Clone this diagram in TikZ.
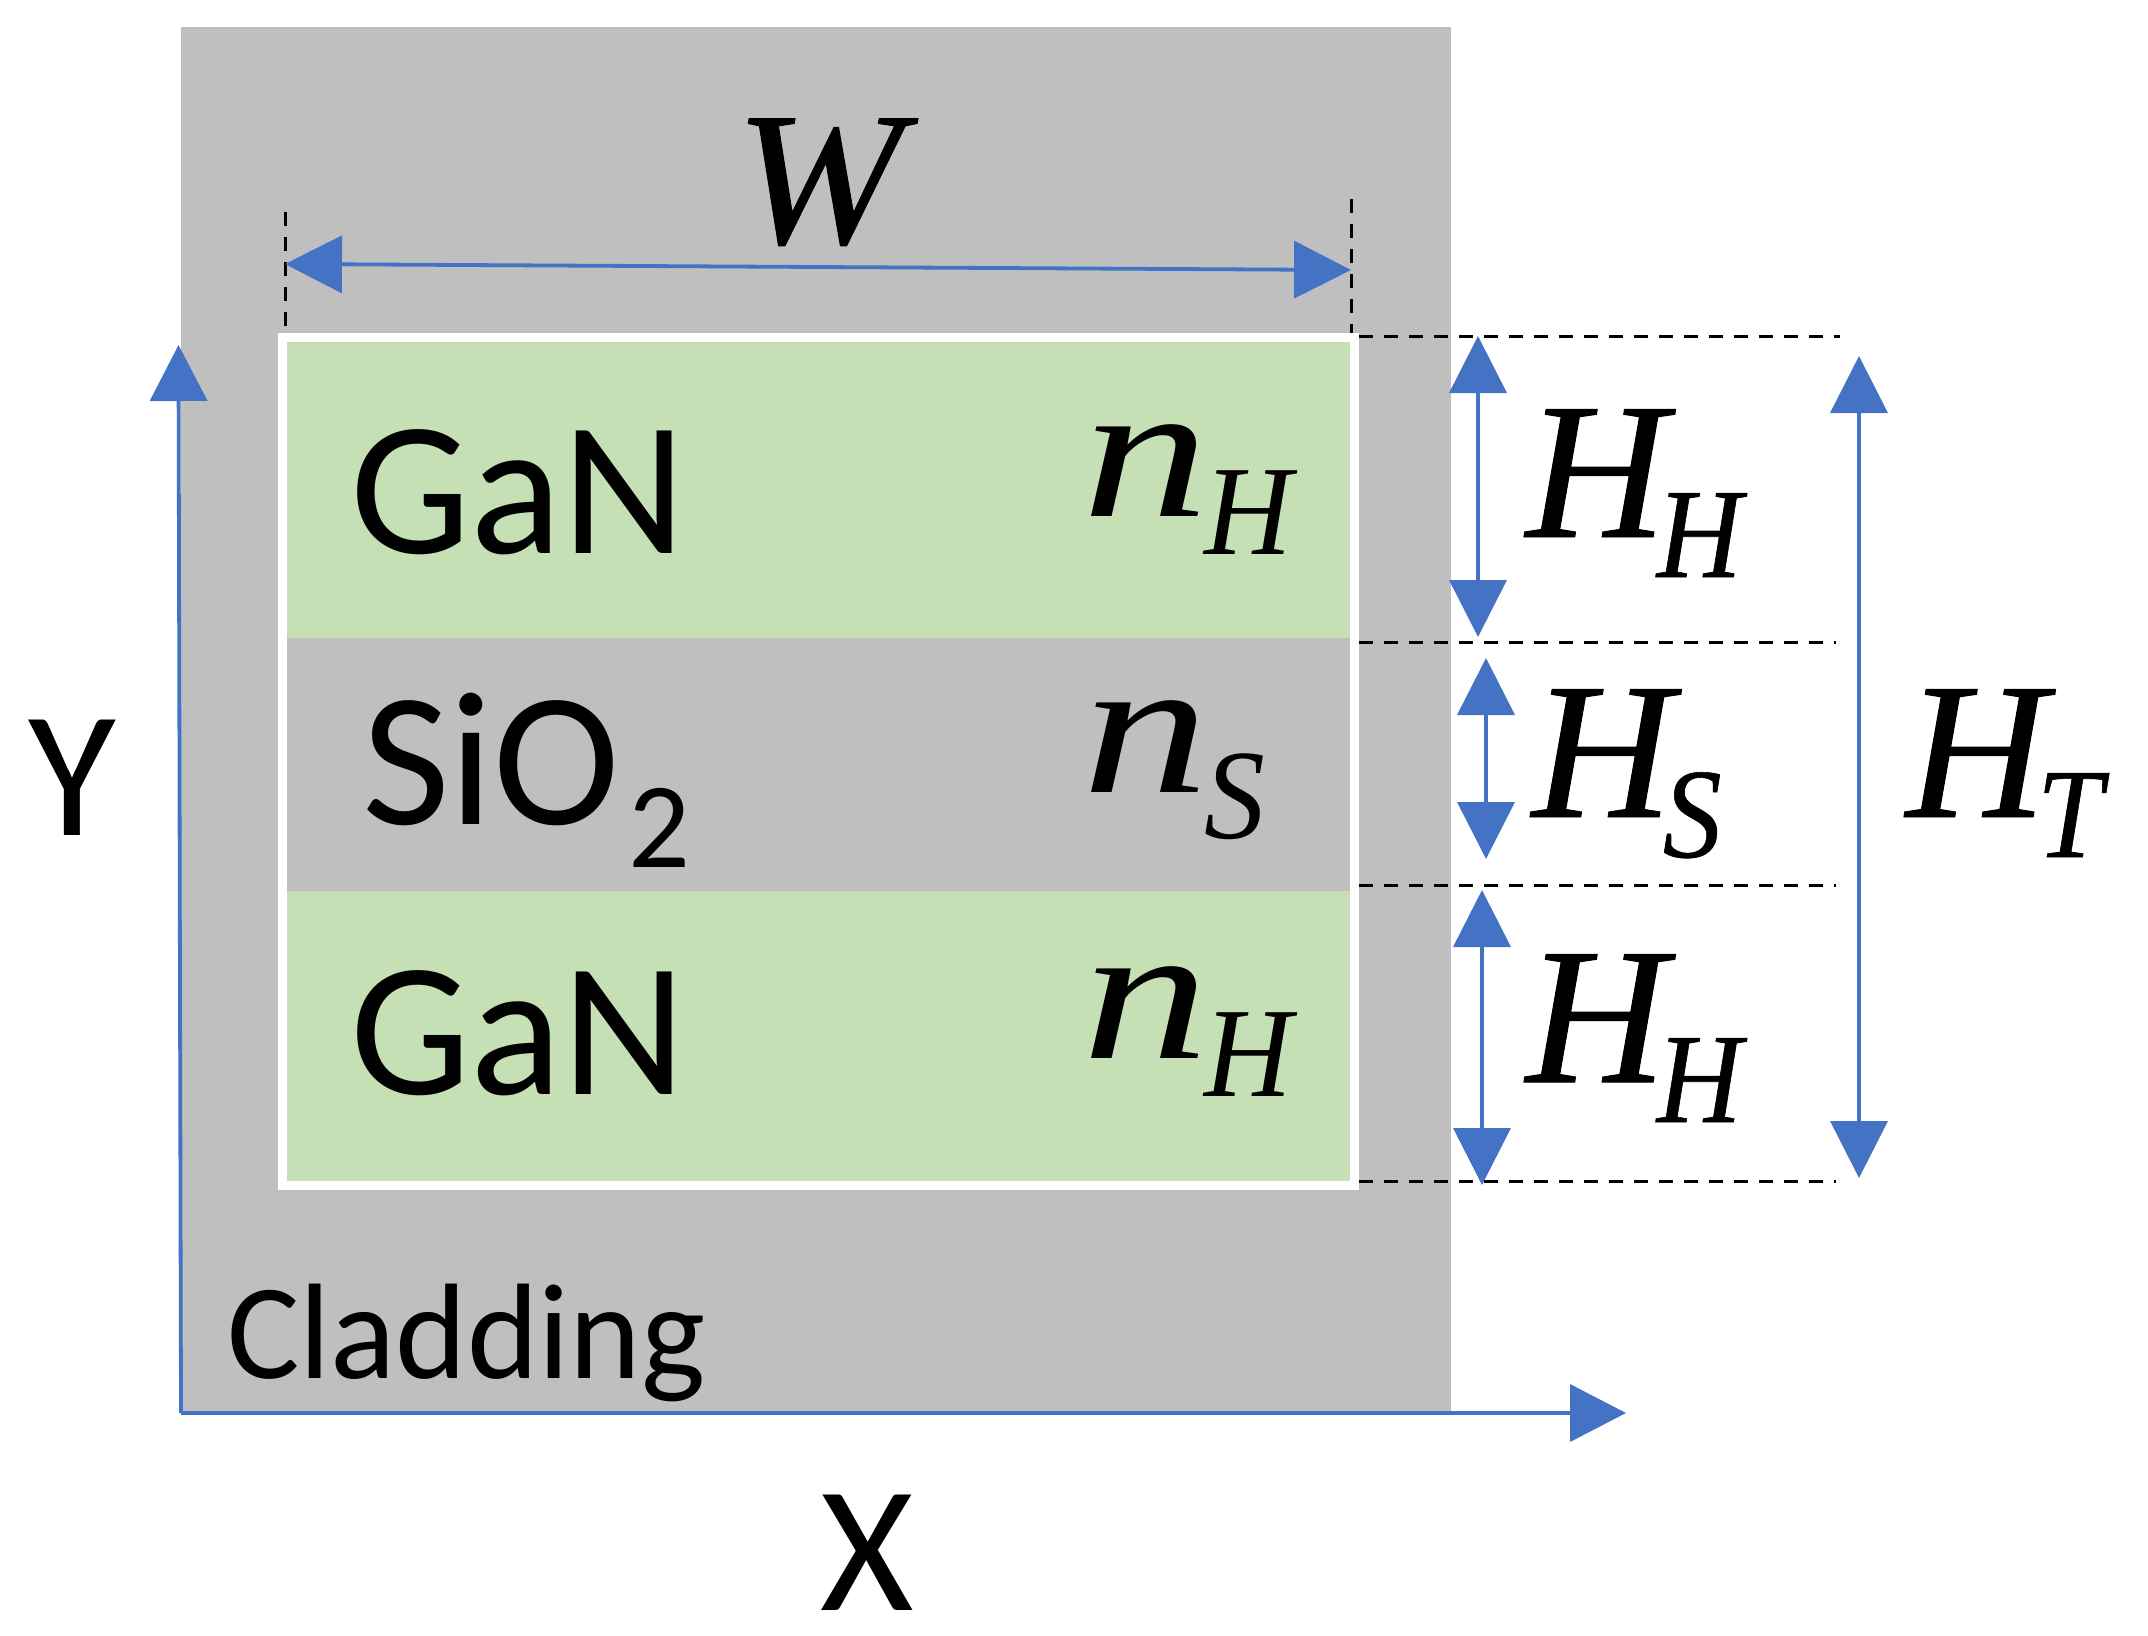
\documentclass[tikz,border=0pt]{standalone}
\usepackage{fontspec}
\setmainfont{Carlito}
\newfontfamily\mathlike{Liberation Serif}
\usetikzlibrary{arrows.meta}
\definecolor{clad}{HTML}{BFBFBF}
\definecolor{core}{HTML}{C5E0B4}
\definecolor{axis}{HTML}{4472C4}
\newcommand{\fsz}[1]{\fontsize{#1}{#1}\selectfont}
\newcommand{\mfont}{\mathlike\itshape\addfontfeature{FakeBold=0.5}}
\newcommand{\nfont}{\mathlike\itshape}
\newcommand{\symsub}[3][-40pt]{{\mfont\fsz{195}#2\kern-10pt\raisebox{#1}{\scalebox{.92}[1]{\fsz{128}#3}}}}
\newcommand{\refr}[3][-38pt]{{\nfont\fsz{195}\scalebox{1.3}[1]{#2}\kern-4pt\raisebox{#1}{\scalebox{.95}[1]{\fsz{128}#3}}}}
\tikzset{
  txt/.style={inner sep=0pt,outer sep=0pt,anchor=base west,text=black},
  label186/.style={txt,font=\fsz{191}},
  block/.style={inner sep=0pt,outer sep=0pt,draw=none,anchor=north west},
  guide/.style={black,line width=3pt,dash pattern=on 14pt off 11pt},
  dim/.style={axis,line width=3.8pt,{Triangle[length=57pt,width=57pt]}-{Triangle[length=57pt,width=57pt]}},
  ax/.style={axis,line width=3.8pt,-{Triangle[length=56pt,width=57pt]}}
}
\begin{document}
\begin{tikzpicture}[x=1pt,y=-1pt]
\useasboundingbox (0,0) rectangle (2148,1636);
% blocks
\node[block,fill=clad,minimum width=1270pt,minimum height=1387pt] (cladding) at (181,27) {};
\node[block,fill=white,minimum width=1081pt,minimum height=857pt] (frame) at (278,333) {};
\node[block,fill=core,minimum width=1063pt,minimum height=296pt] (top) at (287,342) {};
\node[block,fill=clad,minimum width=1063pt,minimum height=253pt] (mid) at (287,638) {};
\node[block,fill=core,minimum width=1063pt,minimum height=290pt] (bot) at (287,891) {};
% coordinates
\coordinate (wl) at (285,264);
\coordinate (wr) at (1351,270);
\coordinate (gl1) at (285,212);
\coordinate (gl2) at (285,333);
\coordinate (gr1) at (1351,199);
\coordinate (gr2) at (1351,333);
\coordinate (d1a) at (1359,336);
\coordinate (d1b) at (1840,336);
\coordinate (d2a) at (1359,642);
\coordinate (d2b) at (1836,642);
\coordinate (d3a) at (1359,885);
\coordinate (d3b) at (1836,885);
\coordinate (d4a) at (1359,1181);
\coordinate (d4b) at (1836,1181);
\coordinate (o) at (181,1413);
\coordinate (ytip) at (178.5,345);
\coordinate (xtip) at (1626,1413);
\coordinate (h1a) at (1478,336);
\coordinate (h1b) at (1478,637);
\coordinate (h2a) at (1486,658);
\coordinate (h2b) at (1486,859);
\coordinate (h3a) at (1482,890);
\coordinate (h3b) at (1482,1185);
\coordinate (h4a) at (1859,356);
\coordinate (h4b) at (1859,1178);
% guides
\draw[guide] (gl1) -- (gl2);
\draw[guide] (gr1) -- (gr2);
\draw[guide] (d1a) -- (d1b);
\draw[guide] (d2a) -- (d2b);
\draw[guide] (d3a) -- (d3b);
\draw[guide] (d4a) -- (d4b);
% arrows
\draw[dim] (wl) -- (wr);
\draw[ax] (o) -- (ytip);
\draw[ax] (o) -- (xtip);
\draw[dim] (h1a) -- (h1b);
\draw[dim] (h2a) -- (h2b);
\draw[dim] (h3a) -- (h3b);
\draw[dim] (h4a) -- (h4b);
% labels
\node[label186] (gan1) at (350,553) {GaN};
\node[label186] (sio) at (362,824) {SiO\kern8pt\raisebox{-43pt}{\fsz{122}2}};
\node[label186] (gan2) at (350,1094) {GaN};
\node[txt,font=\fsz{136}] (cl) at (227,1378) {Cladding};
\node[label186,font=\fsz{180}] (xl) at (867,1610) [anchor=base] {X};
\node[label186,font=\fsz{180}] (yl) at (72,835) [anchor=base] {Y};
\node[txt] (w) at (735,243) {{\mfont\fsz{190}\scalebox{1.06}[1]{W}}};
\node[txt] (n1) at (1082,516) {\refr{n}{H}};
\node[txt] (n2) at (1082,792) {\refr[-46pt]{n}{S}};
\node[txt] (n3) at (1082,1058) {\refr{n}{H}};
\node[txt] (hh1) at (1526,537) {\symsub{H}{H}};
\node[txt] (hs) at (1532,817) {\symsub{H}{S}};
\node[txt] (hh2) at (1526,1082) {\symsub{H}{H}};
\node[txt] (ht) at (1906,817) {\symsub{H}{T}};
\end{tikzpicture}
\end{document}
